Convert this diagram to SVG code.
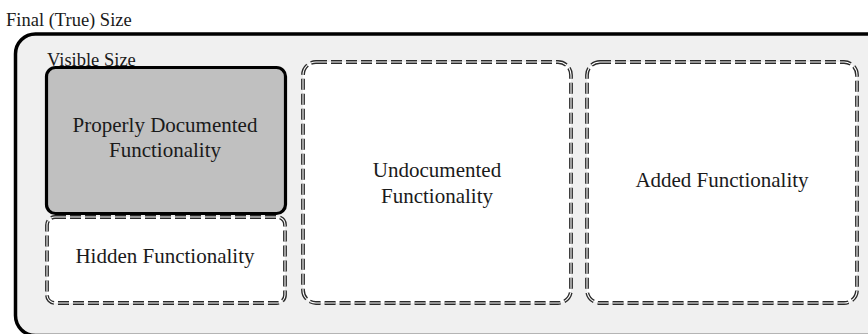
<svg xmlns="http://www.w3.org/2000/svg" width="868" height="334" viewBox="0 0 868 334">
<style>
  .t { font-family: 'Liberation Serif', 'DejaVu Serif', serif; fill: #1a1a1a; }
  .lbl { font-size: 21px; text-anchor: middle; }
  .cap { font-size: 18.5px; }
  .dd-out { fill: #ffffff; stroke: #2a2a2a; stroke-width: 3.8; stroke-dasharray: 11 4; }
  .dd-in { fill: none; stroke: #ffffff; stroke-width: 1.1; stroke-dasharray: 11 4; }
</style>
<rect width="868" height="334" fill="#ffffff"/>
<g id="final-size">
  <rect x="15.5" y="34" width="880" height="301.5" rx="20" ry="20" fill="#f0f0f0" stroke="#000000" stroke-width="3.5"/>
  <text class="t cap" font-family="Liberation Serif, serif" x="6" y="26">Final (True) Size</text>
</g>
<g id="visible-size">
  <text class="t cap" font-family="Liberation Serif, serif" x="47" y="66">Visible Size</text>
</g>
<g id="properly-documented">
  <rect x="46.5" y="67.5" width="239" height="146" rx="9" ry="9" fill="#c0c0c0" stroke="#000000" stroke-width="3.2"/>
  <text class="t lbl" font-family="Liberation Serif, serif" x="165" y="132">Properly Documented</text>
  <text class="t lbl" font-family="Liberation Serif, serif" x="165" y="157">Functionality</text>
</g>
<g id="hidden">
  <rect class="dd-out" x="47" y="217" width="238" height="86" rx="8" ry="8"/>
  <rect class="dd-in" x="47" y="217" width="238" height="86" rx="8" ry="8"/>
  <text class="t lbl" font-family="Liberation Serif, serif" x="165" y="263">Hidden Functionality</text>
</g>
<g id="undocumented">
  <rect class="dd-out" x="303" y="62" width="268" height="241" rx="13" ry="13"/>
  <rect class="dd-in" x="303" y="62" width="268" height="241" rx="13" ry="13"/>
  <text class="t lbl" font-family="Liberation Serif, serif" x="437" y="177">Undocumented</text>
  <text class="t lbl" font-family="Liberation Serif, serif" x="437" y="203">Functionality</text>
</g>
<g id="added">
  <rect class="dd-out" x="587" y="62" width="270" height="241" rx="13" ry="13"/>
  <rect class="dd-in" x="587" y="62" width="270" height="241" rx="13" ry="13"/>
  <text class="t lbl" font-family="Liberation Serif, serif" x="722" y="187">Added Functionality</text>
</g>
<g id="connectors"/>
</svg>
